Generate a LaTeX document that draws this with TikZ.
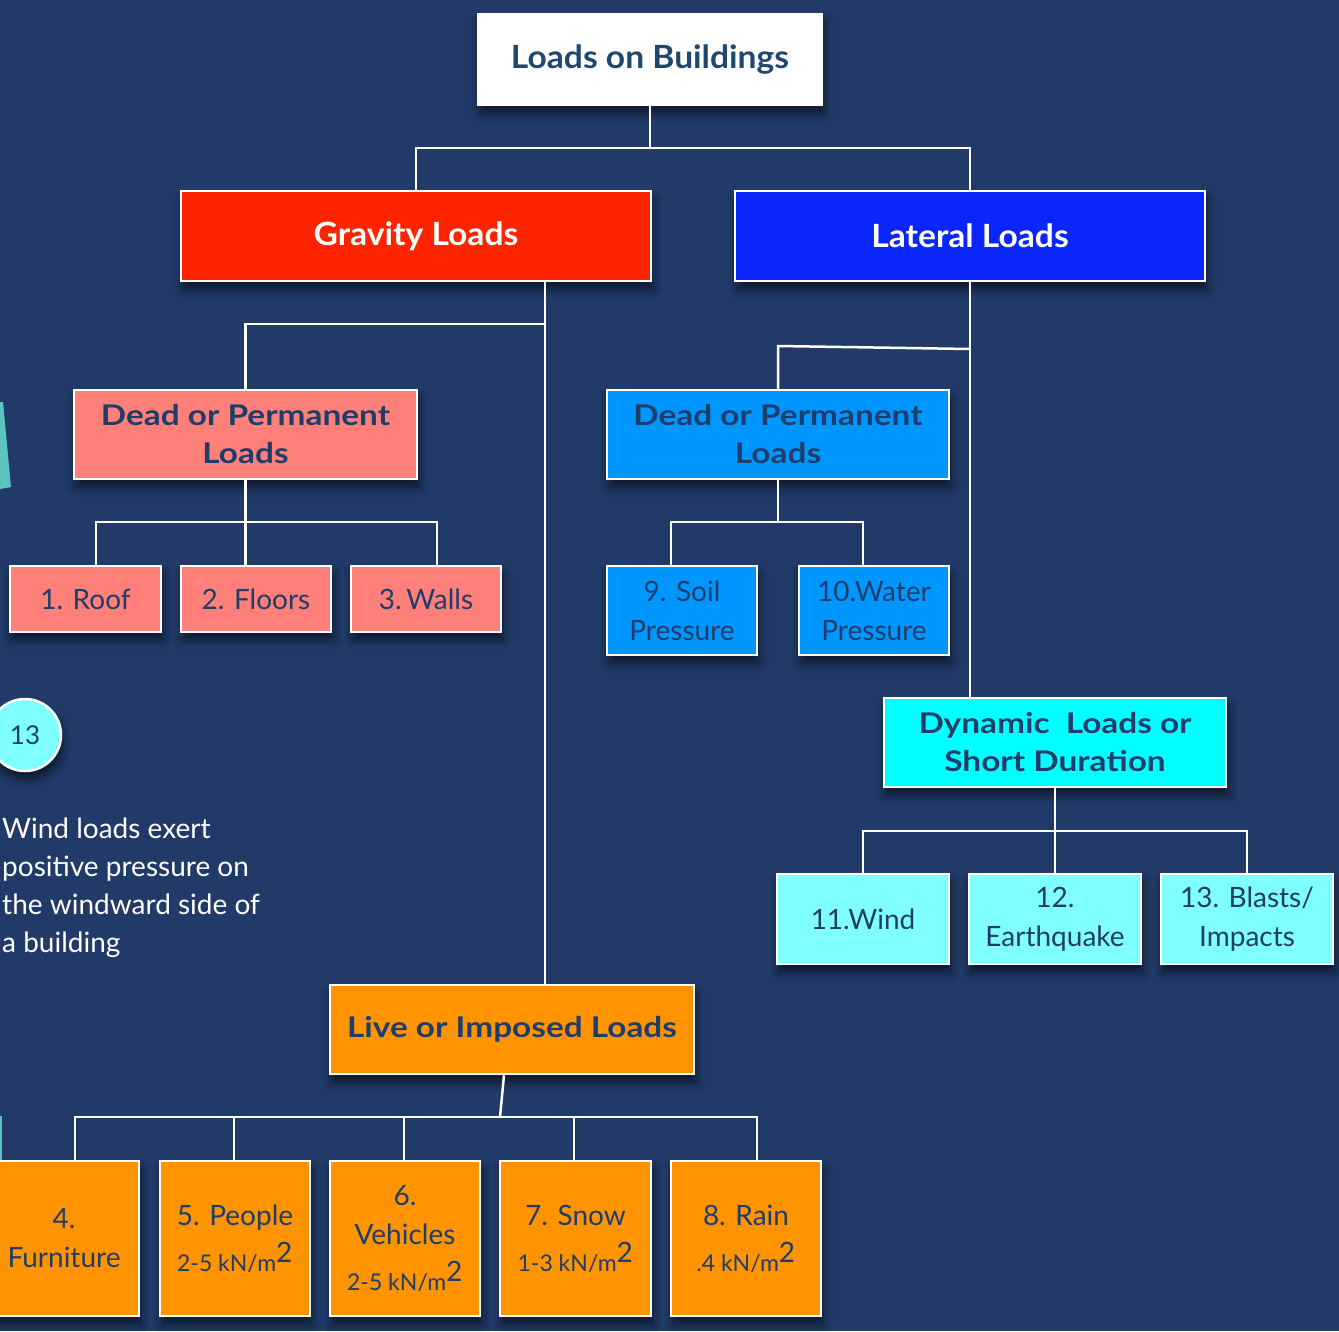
\documentclass[tikz,border=0pt]{standalone}
\usepackage{fontspec}
\setmainfont{Lato}
\newfontfamily\hbigfont{Lato}[FakeStretch=1.05]
\newfontfamily\hmidfont{Lato}[FakeStretch=1.17]
\usetikzlibrary{shadows.blur,calc}
\definecolor{bgc}{HTML}{213A68}
\definecolor{txt}{HTML}{1F3D6B}
\definecolor{topt}{HTML}{1F4870}
\definecolor{redc}{HTML}{FF2400}
\definecolor{latc}{HTML}{0B26FB}
\definecolor{pinkc}{HTML}{FF7F79}
\definecolor{dbluec}{HTML}{0096FF}
\definecolor{cyanc}{HTML}{00FFFF}
\definecolor{lcyanc}{HTML}{7FFFFF}
\definecolor{orangec}{HTML}{FF9300}
\definecolor{tealc}{HTML}{5BC4C0}
\tikzset{
  box/.style={rectangle, draw=white, line width=2.5pt, align=center, inner sep=0pt,
    text=txt, blur shadow={shadow xshift=2pt, shadow yshift=-8pt, shadow blur radius=9pt, shadow opacity=60}},
  hbig/.style={font=\hbigfont\fontsize{32}{38}\selectfont\bfseries},
  hmid/.style={font=\hmidfont\fontsize{28.5}{38}\selectfont\bfseries},
  reg/.style={font=\fontsize{28}{39}\selectfont},
  conn/.style={draw=white, line width=2.5pt},
}
\newcommand{\unit}[1]{{\fontsize{23}{30}\selectfont #1 kN/m\textsuperscript{\fontsize{28}{30}\selectfont 2}}}
\begin{document}
\begin{tikzpicture}[x=1pt,y=-1pt]
\fill[bgc] (0,0) rectangle (1339,1331);
\useasboundingbox (0,0) rectangle (1339,1331);
\clip (0,0) rectangle (1339,1331);
% teal slivers at left edge
\fill[tealc] (0,402) -- (3,402) -- (11,487) -- (0,489) -- cycle;
\fill[tealc] (0,1116) rectangle (2,1160);

% level 0
\node[box, hbig, fill=white, text=topt, minimum width=344, minimum height=91] (top) at (650,59.5) {Loads on Buildings};
% level 1
\node[box, hbig, fill=redc, text=white, minimum width=470, minimum height=90] (grav) at (416,236) {Gravity Loads};
\node[box, hbig, fill=latc, text=white, minimum width=470, minimum height=90] (lat) at (970,236) {Lateral Loads};
% gravity branch
\node[box, hmid, fill=pinkc, minimum width=343, minimum height=89] (deadg) at (245.5,434.5) {Dead or Permanent\\Loads};
\node[box, reg, fill=pinkc, minimum width=151, minimum height=66] (roof) at (85.5,599) {1. Roof};
\node[box, reg, fill=pinkc, minimum width=150, minimum height=66] (floors) at (256,599) {2. Floors};
\node[box, reg, fill=pinkc, minimum width=150, minimum height=66] (walls) at (426,599) {3.\,Walls};
\node[box, hmid, fill=orangec, minimum width=364, minimum height=89] (live) at (512,1029.5) {Live or Imposed Loads};
\node[box, reg, fill=orangec, minimum width=150, minimum height=155] (furn) at (64,1238.5) {4.\\Furniture};
\node[box, reg, fill=orangec, minimum width=150, minimum height=155] (people) at (235,1238.5) {5. People\\[7pt]\unit{2-5}};
\node[box, reg, fill=orangec, minimum width=150, minimum height=155] (veh) at (405,1238.5) {6.\\[0pt]Vehicles\\[7pt]\unit{2-5}};
\node[box, reg, fill=orangec, minimum width=151, minimum height=155] (snow) at (575.5,1238.5) {7. Snow\\[7pt]\unit{1-3}};
\node[box, reg, fill=orangec, minimum width=150, minimum height=155] (rain) at (746,1238.5) {8. Rain\\[7pt]\unit{.4}};
% lateral branch
\node[box, hmid, fill=dbluec, minimum width=342, minimum height=89] (deadb) at (778,434.5) {Dead or Permanent\\Loads};
\node[box, reg, fill=dbluec, minimum width=150, minimum height=89] (soil) at (682,610.5) {9. Soil\\Pressure};
\node[box, reg, fill=dbluec, minimum width=150, minimum height=89] (water) at (874,610.5) {10.Water\\Pressure};
\node[box, hmid, fill=cyanc, minimum width=342, minimum height=89] (dyn) at (1055,742.5) {Dynamic\ \ Loads or\\Short Duration};
\node[box, reg, fill=lcyanc, minimum width=172, minimum height=90] (wind) at (863,919) {11.Wind};
\node[box, reg, fill=lcyanc, minimum width=172, minimum height=90] (quake) at (1055,919) {12.\\Earthquake};
\node[box, reg, fill=lcyanc, minimum width=172, minimum height=90] (blast) at (1247,919) {13. Blasts/\\Impacts};

% side note
\node[circle, draw=white, line width=2.5pt, fill=lcyanc, minimum size=72, inner sep=0pt, text=txt,
  font=\fontsize{26}{30}\selectfont,
  blur shadow={shadow xshift=2pt, shadow yshift=-8pt, shadow blur radius=9pt, shadow opacity=60}] (c13) at (25,735) {13};
\node[anchor=north west, align=left, inner sep=0pt, text=white, font=\fontsize{28}{38}\selectfont] (note) at (2,818)
  {Wind loads exert\\positive pressure on\\the windward side of\\a building};

% connectors
\draw[conn] (top.south) -- (top.south |- 0,148) -| (grav.north);
\draw[conn] (top.south |- 0,148) -| (lat.north);
\coordinate (gv) at ([xshift=129pt]grav.south);
\draw[conn] (gv) -- (gv |- live.north);
\draw[conn] (gv |- 0,324) -| (deadg.north);
\draw[conn] (deadg.south) -- (deadg.south |- 0,522) -| (roof.north -| 96,0);
\draw[conn] (deadg.south |- 0,522) -| (walls.north -| 437,0);
\draw[conn] (deadg.south) -- (floors.north -| deadg.south);
\coordinate (lv) at (lat.south);
\draw[conn] (lv) -- (lv |- dyn.north);
\draw[conn] (lv |- 0,349) -- (deadb.north |- 0,346) -- (deadb.north);
\draw[conn] (deadb.south) -- (deadb.south |- 0,522) -| (soil.north -| 671,0);
\draw[conn] (deadb.south |- 0,522) -| (water.north -| 863,0);
\draw[conn] (dyn.south) -- (dyn.south |- 0,831) -| (wind.north);
\draw[conn] (dyn.south |- 0,831) -| (blast.north);
\draw[conn] (dyn.south) -- (quake.north);
\coordinate (lb) at ([xshift=-8pt]live.south);
\coordinate (lj) at (500,1117);
\draw[conn] (lb) -- (lj);
\draw[conn] (lj) -| (furn.north -| 75,0);
\draw[conn] (lj) -| (rain.north -| 757,0);
\draw[conn] (people.north -| 234,0) -- (234,1117);
\draw[conn] (veh.north -| 404,0) -- (404,1117);
\draw[conn] (snow.north -| 574,0) -- (574,1117);
\end{tikzpicture}
\end{document}
